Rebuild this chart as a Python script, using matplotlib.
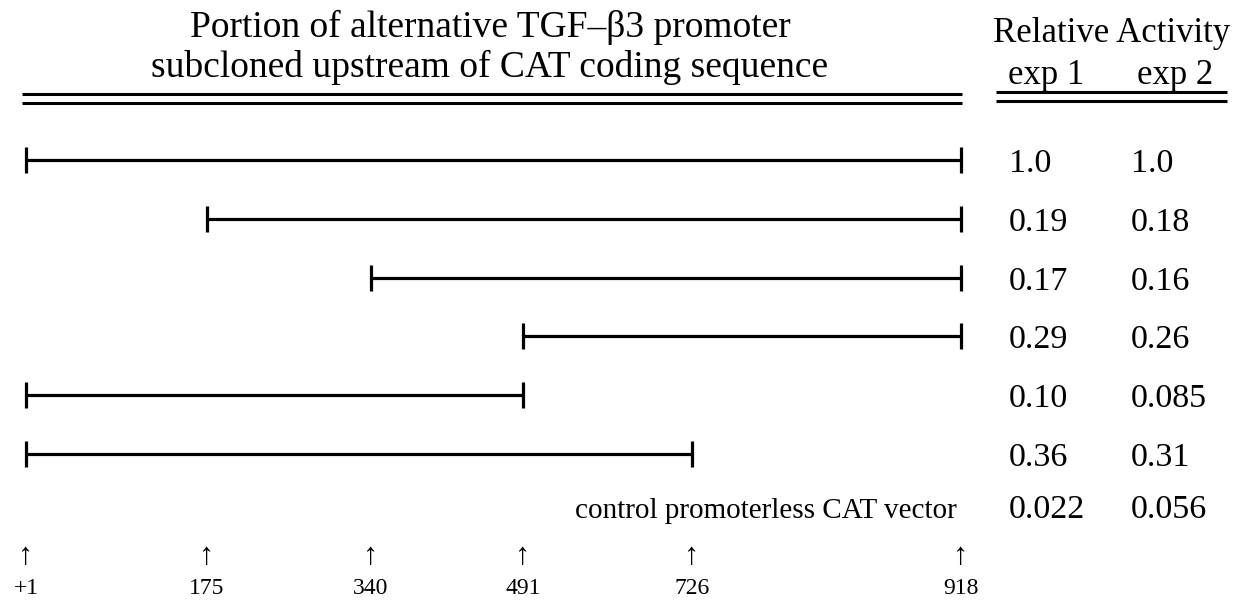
import numpy as np
import matplotlib
matplotlib.use('Agg')
import matplotlib.pyplot as plt
import matplotlib.transforms as mtransforms

# promoter positions marked along the bottom (nucleotides)
site_nt = [1, 175, 340, 491, 726, 918]
site_labels = ['+1', '175', '340', '491', '726', '918']

# subcloned fragments: first and last nucleotide of each construct
construct_start = [1, 175, 340, 491, 1, 1]
construct_end = [918, 918, 918, 918, 491, 726]

# relative CAT activity as printed (last entry is the control vector)
exp1 = ['1.0', '0.19', '0.17', '0.29', '0.10', '0.36', '0.022']
exp2 = ['1.0', '0.18', '0.16', '0.26', '0.085', '0.31', '0.056']
control_label = 'control promoterless CAT vector'

title_left = ['Portion of alternative TGF\u2013\u03b23 promoter',
              'subcloned upstream of CAT coding sequence']
title_right = 'Relative Activity'
col_labels = ['exp 1', 'exp 2']

W, H = 1249, 603
plt.rcParams['font.family'] = ['Liberation Serif', 'DejaVu Serif']

fig = plt.figure(figsize=(W / 100, H / 100), dpi=100)
ax = fig.add_axes([0, 0, 1, 1])

# the map is schematic: nucleotide -> position along the drawing
nodes_nt = [-20] + site_nt + [1200]
nodes_pos = [0, 26, 207, 371, 523, 692, 961, W]


def fwd(x):
    return np.interp(x, nodes_nt, nodes_pos)


def inv(x):
    return np.interp(x, nodes_pos, nodes_nt)


ax.set_xscale('function', functions=(fwd, inv))
ax.set_xlim(nodes_nt[0], nodes_nt[-1])
ax.set_ylim(H, 0)
ax.axis('off')

# x in figure pixels, y in axis units (for the header and the value columns)
fx = mtransforms.blended_transform_factory(
    mtransforms.Affine2D().scale(1 / W, 1) + fig.transFigure, ax.transData)

row_top, row_step = 160, 58.8
lw = 2.3

for i, (s, e) in enumerate(zip(construct_start, construct_end)):
    y = row_top + i * row_step
    ax.hlines(y, s, e, color='black', lw=lw)
    ax.vlines([s, e], y - 13, y + 13, color='black', lw=lw)

# value columns
for i, (a, b) in enumerate(zip(exp1, exp2)):
    yb = row_top + i * row_step + 12
    if i == len(exp1) - 1:
        yb = 518
        ax.text(957, yb, control_label, transform=fx, ha='right',
                va='baseline', fontsize=21)
    ax.text(1009, yb, a, transform=fx, ha='left', va='baseline', fontsize=24.5)
    ax.text(1131, yb, b, transform=fx, ha='left', va='baseline', fontsize=24.5)

# site arrows and labels
for x, lab in zip(site_nt, site_labels):
    ax.text(x, 564, '\u2191', ha='center', va='baseline', fontsize=22)
    ax.text(x, 594, lab, ha='center', va='baseline', fontsize=17)

# headers
ax.text(490, 37, title_left[0], transform=fx, ha='center', va='baseline',
        fontsize=27)
ax.text(490, 77, title_left[1], transform=fx, ha='center', va='baseline',
        fontsize=27)
ax.text(1112, 42, title_right, transform=fx, ha='center', va='baseline',
        fontsize=25)
ax.text(1046, 84, col_labels[0], transform=fx, ha='center', va='baseline',
        fontsize=25)
ax.text(1175, 84, col_labels[1], transform=fx, ha='center', va='baseline',
        fontsize=25)

# double rules under the headers
for y in (94, 103):
    ax.plot([22, 962], [y, y], transform=fx, color='black', lw=2.2,
            solid_capstyle='butt')
for y in (92, 101):
    ax.plot([996, 1227], [y, y], transform=fx, color='black', lw=2.2,
            solid_capstyle='butt')

fig.savefig('out.png', dpi=100, facecolor='white')
